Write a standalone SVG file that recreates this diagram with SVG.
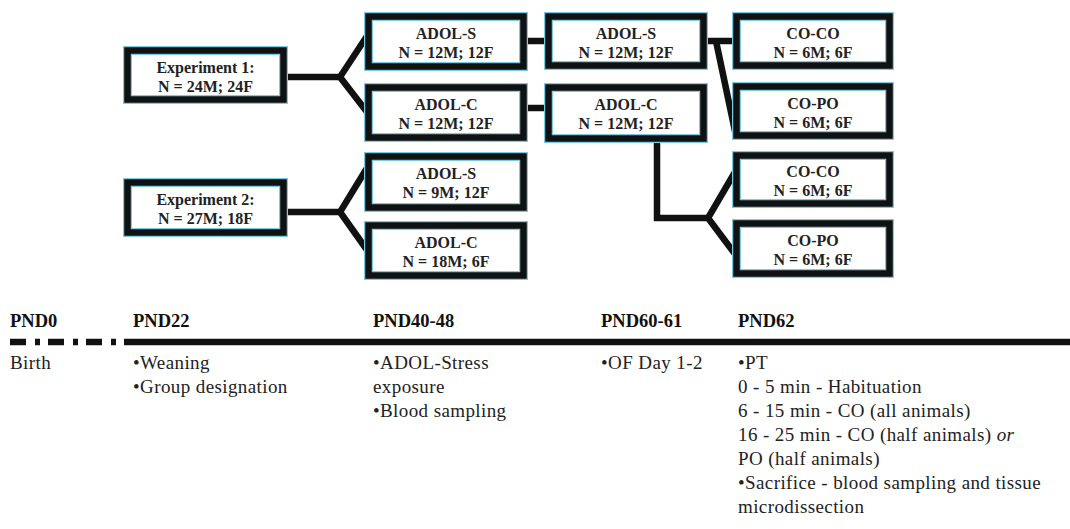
<svg xmlns="http://www.w3.org/2000/svg" width="1070" height="529" viewBox="0 0 1070 529">
<style>
.glow{fill:#fff;stroke:#7cc9e2;stroke-width:9}
.box{fill:none;stroke:#111;stroke-width:6.5}
.bt{font-family:"Liberation Serif","Times New Roman",serif;font-size:16px;font-weight:bold;fill:#222;text-anchor:middle}
.con{fill:none;stroke:#111;stroke-width:6.5;stroke-linejoin:miter}
.hd{font-family:"Liberation Serif","Times New Roman",serif;font-size:18.5px;font-weight:bold;fill:#111}
.tx{font-family:"Liberation Serif","Times New Roman",serif;font-size:19px;letter-spacing:0.4px;fill:#222}
</style>
<rect width="1070" height="529" fill="#fff"/>
<g id="connectors">
<polyline class="con" points="287,77 340,77"/>
<polyline class="con" points="367,36 340,77 367,112"/>
<polyline class="con" points="527,41 546,41"/>
<polyline class="con" points="527,108 546,108"/>
<polyline class="con" points="707,41 734,41"/>
<polyline class="con" points="716,41 736,136"/>
<polyline class="con" points="657,142 657,218 708,218"/>
<polyline class="con" points="735,172 708,218 735,254"/>
<polyline class="con" points="287,212 340,212"/>
<polyline class="con" points="367,168 340,212 367,250"/>
</g>
<g id="exp1"><rect class="glow" x="127.5" y="50.5" width="156" height="49"/><rect class="box" x="127.5" y="50.5" width="156" height="49"/><text class="bt" x="205.5" y="73">Experiment 1:</text><text class="bt" x="205.5" y="92">N = 24M; 24F</text></g>
<g id="e1-adol-s"><rect class="glow" x="368.5" y="16.5" width="155" height="50"/><rect class="box" x="368.5" y="16.5" width="155" height="50"/><text class="bt" x="446" y="39">ADOL-S</text><text class="bt" x="446" y="58">N = 12M; 12F</text></g>
<g id="e1-adol-c"><rect class="glow" x="368.5" y="87.5" width="155" height="50"/><rect class="box" x="368.5" y="87.5" width="155" height="50"/><text class="bt" x="446" y="110">ADOL-C</text><text class="bt" x="446" y="129">N = 12M; 12F</text></g>
<g id="e1-adol-s2"><rect class="glow" x="548.5" y="16.5" width="155" height="49"/><rect class="box" x="548.5" y="16.5" width="155" height="49"/><text class="bt" x="626" y="39">ADOL-S</text><text class="bt" x="626" y="58">N = 12M; 12F</text></g>
<g id="e1-adol-c2"><rect class="glow" x="548.5" y="87.5" width="155" height="51"/><rect class="box" x="548.5" y="87.5" width="155" height="51"/><text class="bt" x="626" y="110">ADOL-C</text><text class="bt" x="626" y="129">N = 12M; 12F</text></g>
<g id="e1-coco"><rect class="glow" x="736.5" y="16.5" width="153" height="49"/><rect class="box" x="736.5" y="16.5" width="153" height="49"/><text class="bt" x="813" y="39">CO-CO</text><text class="bt" x="813" y="58">N = 6M; 6F</text></g>
<g id="e1-copo"><rect class="glow" x="736.5" y="86.5" width="153" height="49"/><rect class="box" x="736.5" y="86.5" width="153" height="49"/><text class="bt" x="813" y="109">CO-PO</text><text class="bt" x="813" y="128">N = 6M; 6F</text></g>
<g id="exp2"><rect class="glow" x="127.5" y="182.5" width="156" height="50"/><rect class="box" x="127.5" y="182.5" width="156" height="50"/><text class="bt" x="205.5" y="205">Experiment 2:</text><text class="bt" x="205.5" y="224">N = 27M; 18F</text></g>
<g id="e2-adol-s"><rect class="glow" x="368.5" y="156.5" width="155" height="51"/><rect class="box" x="368.5" y="156.5" width="155" height="51"/><text class="bt" x="446" y="179">ADOL-S</text><text class="bt" x="446" y="198">N = 9M; 12F</text></g>
<g id="e2-adol-c"><rect class="glow" x="368.5" y="225.5" width="155" height="50"/><rect class="box" x="368.5" y="225.5" width="155" height="50"/><text class="bt" x="446" y="248">ADOL-C</text><text class="bt" x="446" y="267">N = 18M; 6F</text></g>
<g id="e2-coco"><rect class="glow" x="736.5" y="155.5" width="153" height="48"/><rect class="box" x="736.5" y="155.5" width="153" height="48"/><text class="bt" x="813" y="177">CO-CO</text><text class="bt" x="813" y="196">N = 6M; 6F</text></g>
<g id="e2-copo"><rect class="glow" x="736.5" y="223.5" width="153" height="50"/><rect class="box" x="736.5" y="223.5" width="153" height="50"/><text class="bt" x="813" y="246">CO-PO</text><text class="bt" x="813" y="265">N = 6M; 6F</text></g>
<g id="timeline">
<line x1="10" y1="342" x2="116" y2="342" stroke="#111" stroke-width="6.5" stroke-dasharray="16 9 5 8"/>
<line x1="124" y1="342" x2="1070" y2="342" stroke="#111" stroke-width="6.5"/>
<text class="hd" x="10" y="327">PND0</text>
<text class="hd" x="133" y="327">PND22</text>
<text class="hd" x="373" y="327">PND40-48</text>
<text class="hd" x="601" y="327">PND60-61</text>
<text class="hd" x="738" y="327">PND62</text>
<text class="tx" x="10" y="369">Birth</text>
<text class="tx" x="133" y="369">•Weaning</text>
<text class="tx" x="133" y="393">•Group designation</text>
<text class="tx" x="373" y="369">•ADOL-Stress</text>
<text class="tx" x="373" y="393">exposure</text>
<text class="tx" x="373" y="417">•Blood sampling</text>
<text class="tx" x="601" y="369">•OF Day 1-2</text>
<text class="tx" x="738" y="369">•PT</text>
<text class="tx" x="738" y="393">0 - 5 min - Habituation</text>
<text class="tx" x="738" y="417">6 - 15 min - CO (all animals)</text>
<text class="tx" x="738" y="441">16 - 25 min - CO (half animals) <tspan font-style="italic">or</tspan></text>
<text class="tx" x="738" y="465">PO (half animals)</text>
<text class="tx" x="738" y="489">•Sacrifice - blood sampling and tissue</text>
<text class="tx" x="738" y="513">microdissection</text>
</g>
</svg>
